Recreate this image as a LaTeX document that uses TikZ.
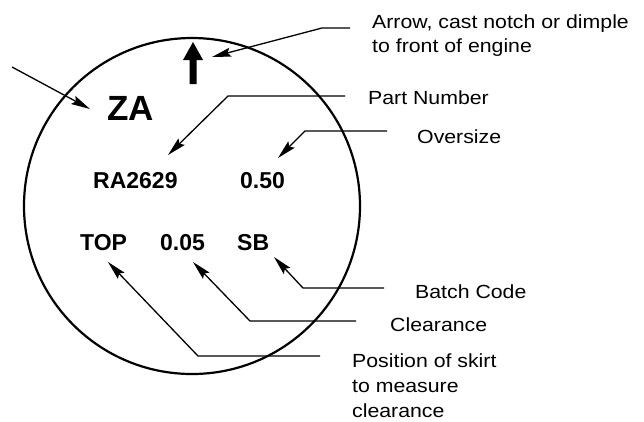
\documentclass[tikz,border=0pt]{standalone}
\usepackage{fontspec}
\usetikzlibrary{arrows.meta}
\newfontfamily\labfont[FakeStretch=1.12]{Liberation Sans}
\newfontfamily\markfont{Liberation Sans}
\tikzset{
  lab/.style={font=\labfont\fontsize{19}{25}\selectfont, anchor=base west, inner sep=0pt, align=left},
  marktext/.style={font=\markfont\bfseries\fontsize{23}{23}\selectfont, anchor=base west, inner sep=0pt},
  leader/.style={line width=1.3pt, -{Stealth[length=19pt,width=9pt,inset=3pt]}},
}
\begin{document}
\begin{tikzpicture}[x=1pt,y=-1pt]
\useasboundingbox (0,0) rectangle (644,421);
% circle
\node[draw, line width=2.2pt, circle, minimum size=336pt, inner sep=0pt] (ring) at (192,206) {};
% front arrow
\fill (189.5,84) -- (189.5,60) -- (183,60) -- (193,42) -- (203,60) -- (196.5,60) -- (196.5,84) -- cycle;
% marks
\node[marktext, font=\markfont\bfseries\fontsize{35}{35}\selectfont] (za) at (107,120) {ZA};
\node[marktext] (ra) at (93,188) {RA2629};
\node[marktext] (os) at (240,188) {0.50};
\node[marktext] (top) at (80,250) {TOP};
\node[marktext] (cl) at (160,250) {0.05};
\node[marktext] (sb) at (237,250) {SB};
% labels (anchor is on the baseline of the last line)
\node[lab, font=\labfont\fontsize{19}{24}\selectfont] (lArrow) at (372,52) {Arrow, cast notch or dimple\\to front of engine};
\node[lab] (lPart) at (368,104) {Part Number};
\node[lab] (lOver) at (417,143) {Oversize};
\node[lab] (lBatch) at (415,298) {Batch Code};
\node[lab] (lClear) at (390,331) {Clearance};
\node[lab] (lPos) at (352,417) {Position of skirt\\to measure\\clearance};
% leader points
\coordinate (aS) at (350,28);  \coordinate (aB) at (322,28);  \coordinate (aT) at (212,57);
\coordinate (zS) at (12,67);   \coordinate (zT) at (90,109);
\coordinate (pS) at (345,96);  \coordinate (pB) at (228,96);  \coordinate (pT) at (168,155);
\coordinate (oS) at (387,131); \coordinate (oB) at (305,131); \coordinate (oT) at (278,158);
\coordinate (bS) at (384,288); \coordinate (bB) at (303,288); \coordinate (bT) at (274,257);
\coordinate (cS) at (356,321); \coordinate (cB) at (250,321); \coordinate (cT) at (193,262);
\coordinate (tS) at (320,356); \coordinate (tB) at (198,356); \coordinate (tT) at (108,262);
\draw[leader] (aS) -- (aB) -- (aT);
\draw[leader] (zS) -- (zT);
\draw[leader] (pS) -- (pB) -- (pT);
\draw[leader] (oS) -- (oB) -- (oT);
\draw[leader] (bS) -- (bB) -- (bT);
\draw[leader] (cS) -- (cB) -- (cT);
\draw[leader] (tS) -- (tB) -- (tT);
\end{tikzpicture}
\end{document}
